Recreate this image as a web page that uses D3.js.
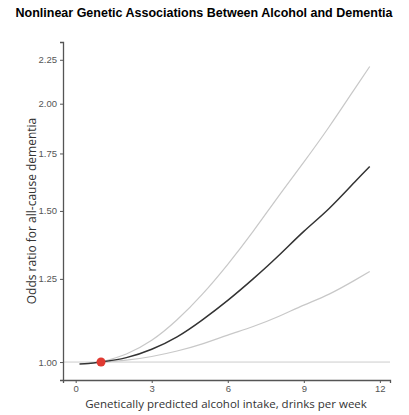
<!DOCTYPE html>
<html><head><meta charset="utf-8">
<script src="https://cdn.jsdelivr.net/npm/d3@7"></script>
<style>body{margin:0;background:#fff}</style></head>
<body><svg id="c" width="409" height="415"></svg>
<script>
const intake = [0.15, 0.5, 1, 2, 3, 4, 5, 6, 7, 8, 9, 10, 11, 11.6];
const orMid  = [0.995, 0.996, 1.0, 1.012, 1.035, 1.07, 1.12, 1.18, 1.25, 1.33, 1.42, 1.51, 1.62, 1.69];
const ciX    = [1, 2, 3, 4, 5, 6, 7, 8, 9, 10, 11, 11.6];
const ciUp   = [1.0, 1.022, 1.06, 1.12, 1.20, 1.30, 1.42, 1.56, 1.71, 1.88, 2.08, 2.21];
const ciLo   = [1.0, 1.005, 1.015, 1.03, 1.05, 1.075, 1.10, 1.13, 1.165, 1.20, 1.245, 1.275];
const xTicks = [0, 3, 6, 9, 12];
const yTicks = [1.00, 1.25, 1.50, 1.75, 2.00, 2.25];

const svg = d3.select("#c");
const x = d3.scaleLinear().domain([-0.5, 12.4]).range([63, 390]);
const y = d3.scaleLog().domain([0.953, 2.36]).range([380, 42]);

svg.append("text").attr("x", 204).attr("y", 17).attr("text-anchor", "middle")
  .attr("font-family", "Liberation Sans, Arial, sans-serif").attr("font-weight", "bold")
  .attr("font-size", 12.5).text("Nonlinear Genetic Associations Between Alcohol and Dementia");

svg.append("line").attr("x1", 63).attr("x2", 390).attr("y1", y(1)).attr("y2", y(1))
  .attr("stroke", "#ccc").attr("stroke-width", 1);

const ya = svg.append("g").attr("transform", "translate(63,0)")
  .call(d3.axisLeft(y).tickValues(yTicks).tickFormat(d3.format(".2f")).tickSize(3));
const xa = svg.append("g").attr("transform", "translate(0,380)")
  .call(d3.axisBottom(x).tickValues(xTicks).tickSize(3).tickPadding(2));
[ya, xa].forEach(a => {
  a.select(".domain").attr("stroke", "#555").attr("stroke-width", 1.3);
  a.selectAll(".tick line").attr("stroke", "#555");
  a.selectAll("text").attr("fill", "#555").attr("font-size", 9.5)
    .attr("font-family", "Liberation Sans, Arial, sans-serif");
});

const line = d3.line().curve(d3.curveNatural);
const pts = (xs, ys) => xs.map((v, i) => [x(v), y(ys[i])]);
svg.append("path").attr("d", line(pts(ciX, ciUp))).attr("fill", "none").attr("stroke", "#c8c8c8").attr("stroke-width", 1.2);
svg.append("path").attr("d", line(pts(ciX, ciLo))).attr("fill", "none").attr("stroke", "#c8c8c8").attr("stroke-width", 1.2);
svg.append("path").attr("d", line(pts(intake, orMid))).attr("fill", "none").attr("stroke", "#333").attr("stroke-width", 1.5);
svg.append("circle").attr("cx", x(1)).attr("cy", y(1)).attr("r", 4.5).attr("fill", "#e03a32");

svg.append("text").attr("x", 226).attr("y", 408).attr("text-anchor", "middle")
  .attr("font-family", "Open Sans, sans-serif").attr("font-size", 11.5).attr("fill", "#333")
  .text("Genetically predicted alcohol intake, drinks per week");
svg.append("text").attr("transform", "translate(36,211) rotate(-90)").attr("text-anchor", "middle")
  .attr("font-family", "Open Sans, sans-serif").attr("font-size", 12).attr("fill", "#333")
  .text("Odds ratio for all-cause dementia");
</script></body></html>
